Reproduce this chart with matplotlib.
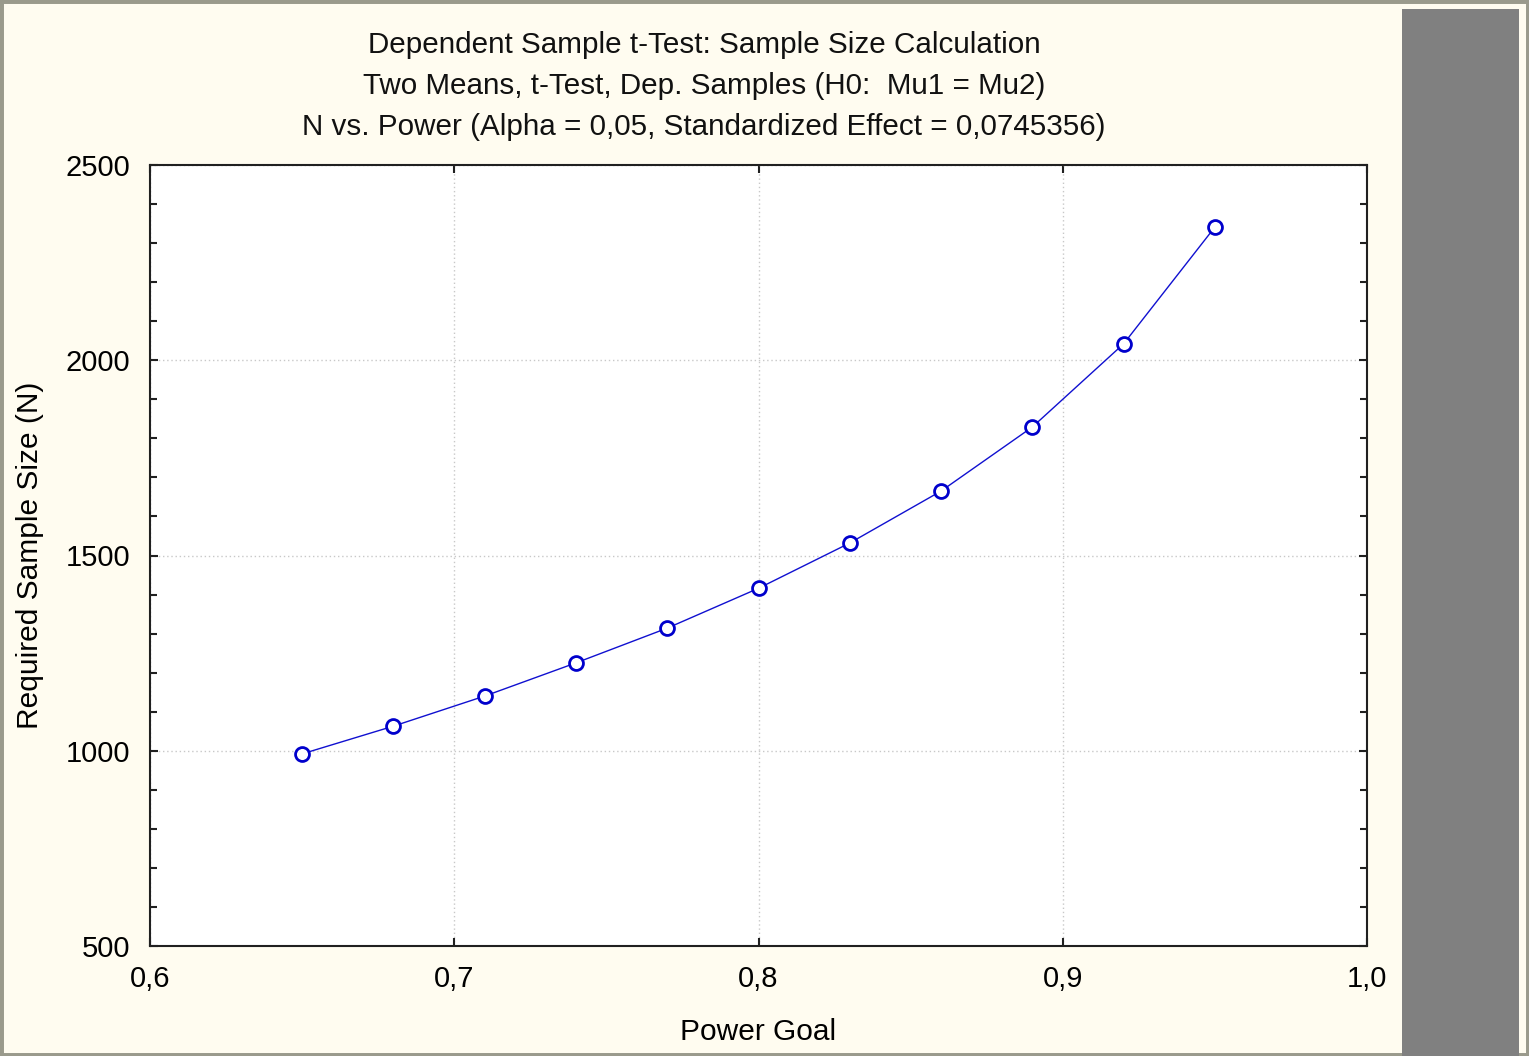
import numpy as np
import matplotlib
matplotlib.use("Agg")
import matplotlib.pyplot as plt
from matplotlib.patches import Rectangle
from matplotlib.ticker import MultipleLocator, FuncFormatter

plt.rcParams["font.family"] = ["Liberation Sans", "DejaVu Sans"]

# Values
power_goal = [0.65, 0.68, 0.71, 0.74, 0.77, 0.80, 0.83, 0.86, 0.89, 0.92, 0.95]
sample_size = [992, 1063, 1140, 1225, 1314, 1416, 1532, 1665, 1829, 2042, 2341]
title_lines = [
    "Dependent Sample t-Test: Sample Size Calculation",
    "Two Means, t-Test, Dep. Samples (H0:  Mu1 = Mu2)",
    "N vs. Power (Alpha = 0,05, Standardized Effect = 0,0745356)",
]

bg = "#fffcf0"
fig = plt.figure(figsize=(15.29, 10.56), dpi=100, facecolor=bg)

# window frame and grey side panel
fig.patches.append(Rectangle((0, 0), 1, 1, transform=fig.transFigure,
                             facecolor="none", edgecolor="#9a9a8c", linewidth=5))
fig.patches.append(Rectangle((1402 / 1529, 0), (1519 - 1402) / 1529, 1 - 9 / 1056,
                             transform=fig.transFigure, facecolor="#808080",
                             edgecolor="none"))

ax = fig.add_axes([150 / 1529, 110 / 1056, (1367 - 150) / 1529, (946 - 165) / 1056])
ax.set_facecolor("white")

ax.plot(power_goal, sample_size, color="#1010d0", linewidth=1,
        marker="o", markersize=10, markerfacecolor="white",
        markeredgecolor="#0000cc", markeredgewidth=2)

ax.set_xlim(0.6, 1.0)
ax.set_ylim(500, 2500)
ax.xaxis.set_major_locator(MultipleLocator(0.1))
ax.yaxis.set_major_locator(MultipleLocator(500))
ax.yaxis.set_minor_locator(MultipleLocator(100))
ax.xaxis.set_major_formatter(FuncFormatter(lambda v, p: f"{v:.1f}".replace(".", ",")))
ax.yaxis.set_major_formatter(FuncFormatter(lambda v, p: f"{v:.0f}"))

ax.grid(True, which="major", linestyle=(0, (1, 2)), color="#c8c8c8", linewidth=1)
ax.tick_params(which="both", direction="in", top=True, right=True,
               labelsize=21, width=1.5, color="#202020", pad=14)
ax.tick_params(which="major", length=6)
ax.tick_params(which="minor", length=5)
for s in ax.spines.values():
    s.set_linewidth(1.5)
    s.set_color("#202020")

ax.set_xlabel("Power Goal", fontsize=21.5, labelpad=18)
ax.set_ylabel("Required Sample Size (N)", fontsize=21.5, labelpad=16)

for i, line in enumerate(title_lines):
    fig.text(704 / 1529, 1 - (45 + 41 * i) / 1056, line, fontsize=21.3,
             ha="center", va="center", color="#111111")

fig.savefig("out.png", dpi=100, facecolor=bg)
